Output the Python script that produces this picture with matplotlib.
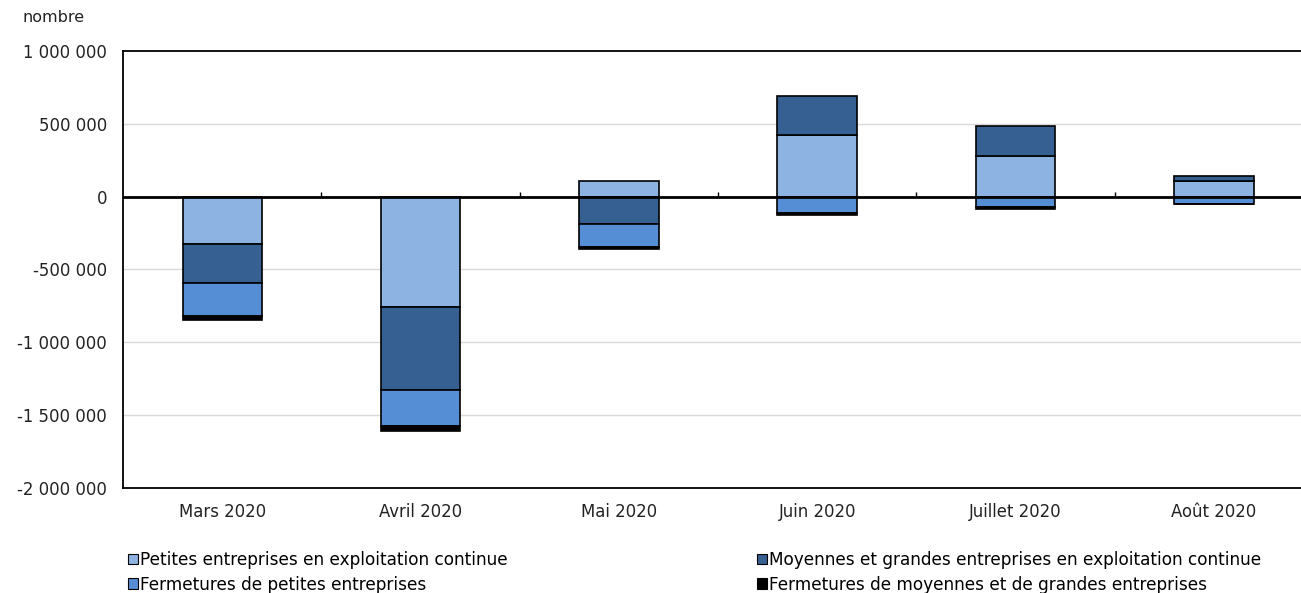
import matplotlib
matplotlib.use("Agg")
import matplotlib.pyplot as plt
import numpy as np
from matplotlib.patches import Patch
from matplotlib.ticker import FuncFormatter

mois = ["Mars 2020", "Avril 2020", "Mai 2020", "Juin 2020", "Juillet 2020", "Août 2020"]

petites_continue = [-325000, -760000, 105000, 423000, 277000, 110000]
moyennes_continue = [-270000, -567000, -188000, 265000, 210000, 30000]
fermetures_petites = [-222000, -250000, -155000, -110000, -69000, -47000]
fermetures_moyennes = [-30000, -34000, -14000, -16000, -18000, -4000]

series = [
    ("Petites entreprises en exploitation continue", petites_continue, "#8db3e2"),
    ("Moyennes et grandes entreprises en exploitation continue", moyennes_continue, "#356091"),
    ("Fermetures de petites entreprises", fermetures_petites, "#558ed5"),
    ("Fermetures de moyennes et de grandes entreprises", fermetures_moyennes, "#000000"),
]

plt.rcParams['font.family'] = ['DejaVu Sans']

fig = plt.figure(figsize=(13.01, 5.93), dpi=100)
ax = fig.add_axes([123 / 1301, 1 - 488 / 593, 1190 / 1301, 437 / 593])

x = np.arange(len(mois))
pos_base = np.zeros(len(mois))
neg_base = np.zeros(len(mois))
handles = []
for nom, vals, couleur in series:
    vals = np.array(vals, dtype=float)
    base = np.where(vals >= 0, pos_base, neg_base)
    ax.bar(x, vals, 0.4, bottom=base, color=couleur, edgecolor="black",
           linewidth=1.2, zorder=3)
    pos_base = pos_base + np.where(vals >= 0, vals, 0)
    neg_base = neg_base + np.where(vals < 0, vals, 0)
    handles.append(Patch(facecolor=couleur, edgecolor="black", linewidth=0.8, label=nom))

ax.set_xlim(-0.5, len(mois) - 0.5)
ax.set_ylim(-2000000, 1000000)
ax.set_yticks(np.arange(-2000000, 1000001, 500000))
ax.yaxis.set_major_formatter(FuncFormatter(lambda v, p: f"{int(v):,}".replace(",", " ")))
ax.set_xticks(x)
ax.set_xticklabels(mois)
ax.tick_params(axis="both", length=0, labelsize=11.9, colors="#222222")
ax.tick_params(axis="y", pad=11.5)
ax.tick_params(axis="x", pad=11)

for yv in [-1500000, -1000000, -500000, 500000]:
    ax.axhline(yv, color="#d9d9d9", linewidth=1, zorder=1)
ax.axhline(0, color="black", linewidth=2, zorder=4)
# petites marques entre les mois, sur la ligne zéro
ax.vlines(np.arange(0.5, len(mois) - 0.5, 1), 0, 30000, color="black", linewidth=1, zorder=4)

for s in ["left", "top", "bottom"]:
    ax.spines[s].set_linewidth(1.3)
ax.spines["right"].set_visible(False)

fig.text(22 / 1301, 1 - 18 / 593, "nombre", fontsize=11.5, va="center", color="#222222")

leg_kw = dict(frameon=False, fontsize=12.2, handlelength=0.6, handleheight=0.6,
              handletextpad=0.12, labelspacing=0.4, borderaxespad=0, borderpad=0,
              loc="upper left")
fig.legend(handles=[handles[0], handles[2]], bbox_to_anchor=(128 / 1301, 1 - 551 / 593), **leg_kw)
fig.legend(handles=[handles[1], handles[3]], bbox_to_anchor=(757 / 1301, 1 - 551 / 593), **leg_kw)

fig.savefig("out.png", dpi=100)
